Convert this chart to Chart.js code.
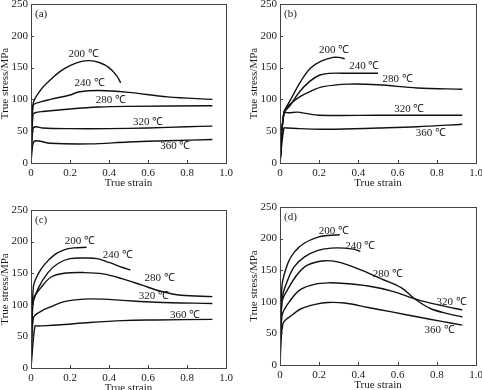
<!DOCTYPE html>
<html>
<head>
<meta charset="utf-8">
<script src="https://cdn.jsdelivr.net/npm/chart.js@4"></script>
<style>
  html, body { margin: 0; padding: 0; background: #fff; overflow: hidden; }
  body { width: 482px; height: 390px; position: relative; }
  canvas { position: absolute; }
</style>
</head>
<body>
<canvas id="pa"></canvas>
<canvas id="pb"></canvas>
<canvas id="pc"></canvas>
<canvas id="pd"></canvas>
<script>
// axis ticks
const strainTicks = [0, 0.2, 0.4, 0.6, 0.8, 1.0];
const stressTicks = [0, 50, 100, 150, 200, 250];
const temps = ['200 ℃', '240 ℃', '280 ℃', '320 ℃', '360 ℃'];

// panel (a)  [strain, stress]
const a200 = [[0,0],[0.01,92],[0.05,115],[0.1,131],[0.15,144],[0.2,153],[0.25,159],[0.3,161],[0.35,158],[0.4,150],[0.44,137],[0.46,126]];
const a240 = [[0,0],[0.01,90],[0.05,96],[0.1,100],[0.2,107],[0.25,112],[0.35,114],[0.5,111],[0.7,104],[0.93,100]];
const a280 = [[0,0],[0.01,76],[0.02,79],[0.06,81],[0.2,85],[0.35,88],[0.5,89],[0.93,90]];
const a320 = [[0,0],[0.01,54],[0.025,57],[0.06,55],[0.2,54],[0.4,54],[0.6,55],[0.8,57],[0.93,58]];
const a360 = [[0,0],[0.01,30],[0.025,35],[0.1,31],[0.3,30],[0.5,33],[0.7,35],[0.93,37]];

// panel (b)
const b200 = [[0,0],[0.02,78],[0.055,100],[0.105,128],[0.155,149],[0.21,160],[0.27,166],[0.3,166],[0.33,164]];
const b240 = [[0,0],[0.02,78],[0.05,90],[0.1,112],[0.15,128],[0.2,138],[0.25,141],[0.35,141],[0.5,141]];
const b280 = [[0,0],[0.02,80],[0.05,92],[0.1,104],[0.15,112],[0.22,120],[0.35,124],[0.5,123],[0.7,118],[0.93,116]];
const b320 = [[0,0],[0.02,78],[0.05,79],[0.09,80],[0.13,78],[0.2,75],[0.5,75],[0.93,75]];
const b360 = [[0,0],[0.02,55],[0.035,55],[0.1,54],[0.25,53],[0.5,55],[0.7,57],[0.93,61]];

// panel (c)
const c200 = [[0,0],[0.012,128],[0.037,149],[0.07,164],[0.12,179],[0.17,187],[0.22,190],[0.285,191]];
const c240 = [[0,0],[0.007,97],[0.037,126],[0.087,151],[0.137,165],[0.2,173],[0.28,174],[0.34,173],[0.4,167],[0.47,159],[0.51,155]];
const c280 = [[0,0],[0.012,108],[0.053,128],[0.103,144],[0.17,150],[0.27,151],[0.37,149],[0.47,141],[0.57,131],[0.67,121],[0.77,115],[0.93,113]];
const c320 = [[0,0],[0.012,79],[0.053,90],[0.103,97],[0.17,105],[0.27,109],[0.37,109],[0.47,107],[0.64,104],[0.93,102]];
const c360 = [[0,0],[0.02,66],[0.035,66.5],[0.137,68],[0.3,72],[0.47,75],[0.64,76],[0.93,77]];

// panel (d)
const d200 = [[0,0],[0.01,125],[0.04,161],[0.074,179],[0.125,193],[0.19,202],[0.245,205],[0.305,206]];
const d240 = [[0,0],[0.01,104],[0.04,135],[0.074,156],[0.125,171],[0.19,181],[0.26,185],[0.33,185],[0.38,183],[0.41,180]];
const d280 = [[0,0],[0.01,99],[0.04,120],[0.09,144],[0.14,158],[0.23,165],[0.31,162],[0.415,150],[0.52,136],[0.62,122],[0.69,104],[0.77,89],[0.86,81],[0.93,76]];
const d320 = [[0,0],[0.01,78],[0.057,104],[0.108,120],[0.18,128],[0.245,130],[0.33,129],[0.45,125],[0.57,117],[0.705,103],[0.825,94],[0.93,87]];
const d360 = [[0,0],[0.015,65],[0.057,78],[0.108,89],[0.18,96],[0.245,99],[0.33,98],[0.45,91],[0.57,84],[0.705,76],[0.825,69],[0.93,63]];

// curve label anchors (strain, stress), same order as temps
const aLabels = [[0.27,171],[0.30,126],[0.41,99],[0.60,64],[0.74,26]];
const bLabels = [[0.276,178],[0.43,153],[0.60,132],[0.66,85],[0.77,47]];
const cLabels = [[0.25,200],[0.446,179],[0.66,142],[0.63,114],[0.79,84]];
const dLabels = [[0.275,212],[0.41,188],[0.55,144],[0.875,100],[0.815,55]];

const FONT = 'Liberation Serif';
const INK = '#1a1a1a';

const panels = [
  { id: 'pa', tag: '(a)', plot: [31, 4, 226, 163], curves: [a200, a240, a280, a320, a360], labels: aLabels },
  { id: 'pb', tag: '(b)', plot: [280, 4, 476, 163], curves: [b200, b240, b280, b320, b360], labels: bLabels },
  { id: 'pc', tag: '(c)', plot: [31, 210, 226, 368], curves: [c200, c240, c280, c320, c360], labels: cLabels },
  { id: 'pd', tag: '(d)', plot: [280, 207, 476, 365], curves: [d200, d240, d280, d320, d360], labels: dLabels }
];

const YW = 31, XH = 26, PT = 8, PR = 12;

// frame, inward ticks, curve names, panel tag
const decor = {
  id: 'decor',
  afterDraw(chart, args, opts) {
    const { ctx, chartArea: ca, scales: { x, y } } = chart;
    ctx.save();
    ctx.strokeStyle = '#444';
    ctx.lineWidth = 1;
    ctx.strokeRect(Math.round(ca.left) + 0.5, Math.round(ca.top) + 0.5,
      Math.round(ca.right - ca.left), Math.round(ca.bottom - ca.top));
    ctx.beginPath();
    strainTicks.forEach(v => {
      const px = Math.round(x.getPixelForValue(v)) + 0.5;
      ctx.moveTo(px, ca.bottom); ctx.lineTo(px, ca.bottom - 3);
    });
    stressTicks.forEach(v => {
      const py = Math.round(y.getPixelForValue(v)) + 0.5;
      ctx.moveTo(ca.left, py); ctx.lineTo(ca.left + 3, py);
    });
    ctx.stroke();

    ctx.fillStyle = INK;
    ctx.font = '11px "' + FONT + '"';
    ctx.textAlign = 'center';
    ctx.textBaseline = 'middle';
    opts.labels.forEach((p, i) => {
      ctx.fillText(temps[i], x.getPixelForValue(p[0]), y.getPixelForValue(p[1]));
    });
    ctx.textAlign = 'left';
    ctx.fillText(opts.tag, ca.left + 4, ca.top + 10);
    ctx.restore();
  }
};

panels.forEach(p => {
  const [l, t, r, b] = p.plot;
  const cv = document.getElementById(p.id);
  const left = l - YW, top = t - PT;
  const w = r - left + PR, h = b - top + XH;
  cv.style.left = left + 'px';
  cv.style.top = top + 'px';
  cv.width = w; cv.height = h;
  cv.style.width = w + 'px'; cv.style.height = h + 'px';

  new Chart(cv, {
    type: 'line',
    data: {
      datasets: p.curves.map((c, i) => ({
        label: temps[i],
        data: c.map(pt => ({ x: pt[0], y: pt[1] })),
        borderColor: '#111',
        borderWidth: 1.4,
        pointRadius: 0,
        fill: false,
        tension: 0.35
      }))
    },
    options: {
      responsive: false,
      animation: false,
      events: [],
      layout: { padding: { left: 0, top: PT, right: PR, bottom: 0 } },
      plugins: {
        legend: { display: false },
        tooltip: { enabled: false },
        decor: { labels: p.labels, tag: p.tag }
      },
      scales: {
        x: {
          type: 'linear',
          min: 0, max: 1,
          grid: { display: false, drawTicks: false },
          border: { display: false },
          afterBuildTicks: s => { s.ticks = strainTicks.map(v => ({ value: v })); },
          afterFit: s => { s.height = XH; s.paddingLeft = 0; s.paddingRight = 0; },
          ticks: {
            padding: 4,
            color: INK,
            font: { family: FONT, size: 11 },
            maxRotation: 0,
            autoSkip: false,
            callback: v => v === 0 ? '0' : v.toFixed(1)
          },
          title: {
            display: true,
            text: 'True strain',
            color: INK,
            font: { family: FONT, size: 11, lineHeight: 1 },
            padding: { top: 0, bottom: 0 }
          }
        },
        y: {
          type: 'linear',
          min: 0, max: 250,
          grid: { display: false, drawTicks: false },
          border: { display: false },
          afterBuildTicks: s => { s.ticks = stressTicks.map(v => ({ value: v })); },
          afterFit: s => { s.width = YW; s.paddingTop = 0; s.paddingBottom = 0; },
          ticks: {
            padding: 3,
            color: INK,
            font: { family: FONT, size: 11 },
            autoSkip: false
          },
          title: {
            display: true,
            text: 'True stress/MPa',
            color: INK,
            font: { family: FONT, size: 11, lineHeight: 1 },
            padding: { top: 0, bottom: 0 }
          }
        }
      }
    },
    plugins: [decor]
  });
});
</script>
</body>
</html>
